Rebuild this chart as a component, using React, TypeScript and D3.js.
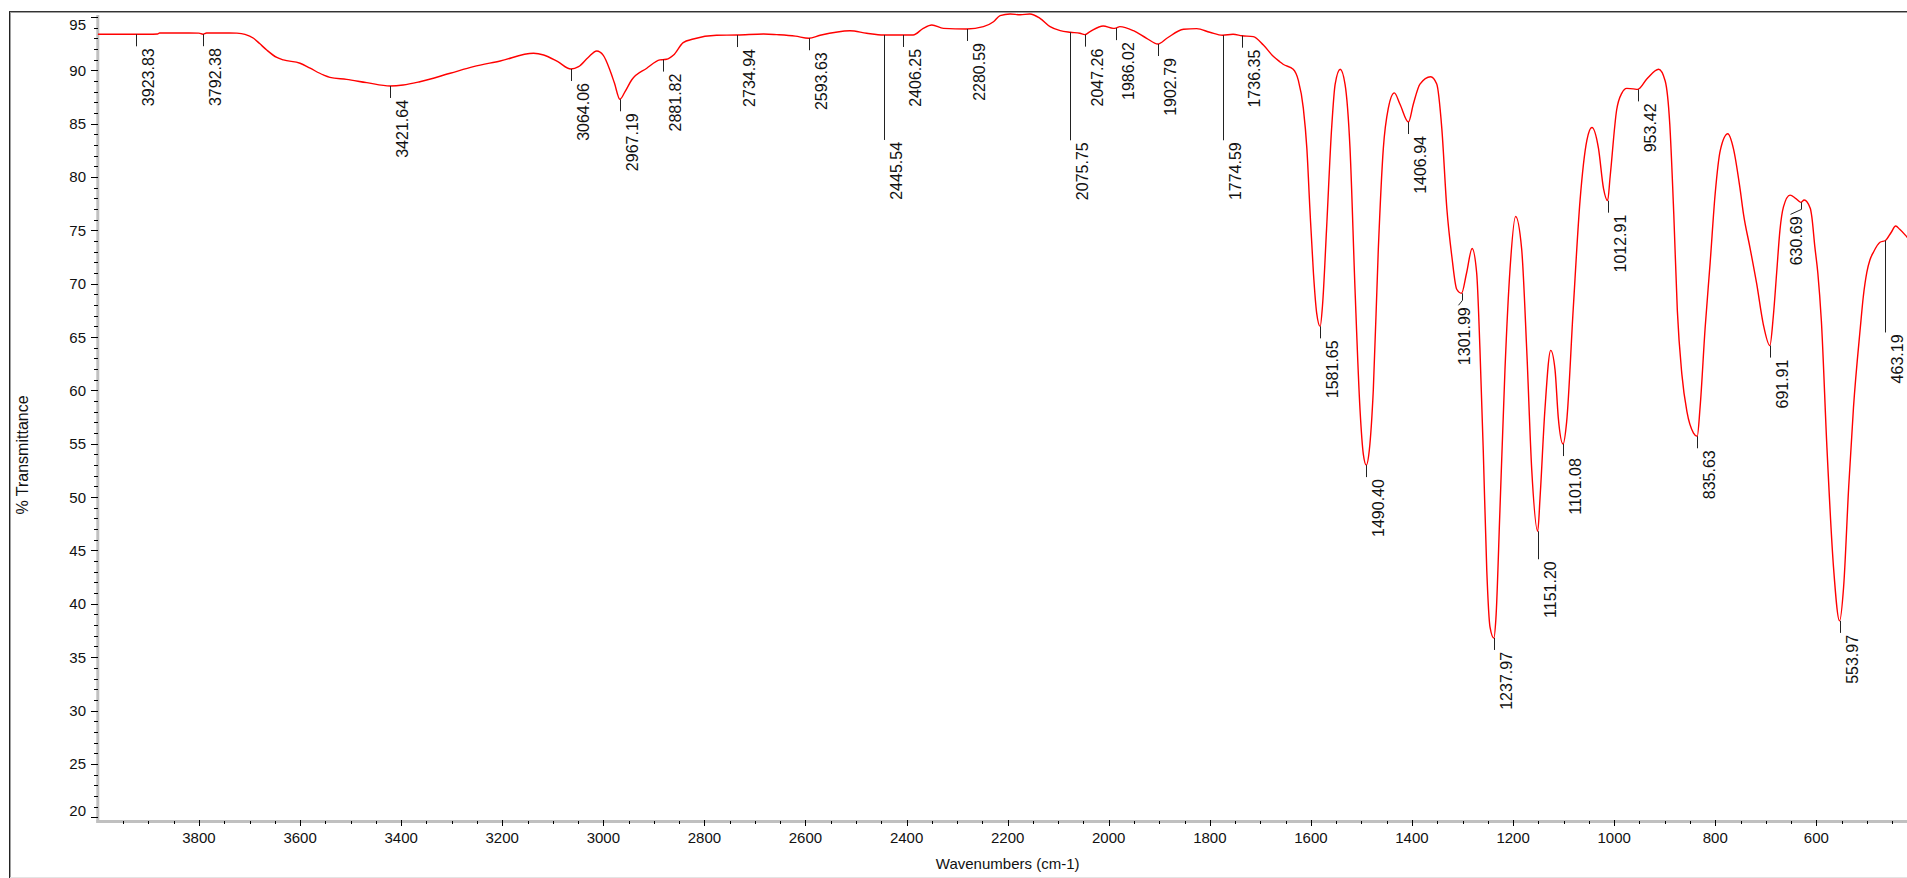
import React from 'react';
import * as d3 from 'd3';

// ---------- data ----------
const WAVENUMBERS = [
  4000, 3950, 3900, 3882, 3878, 3820, 3800, 3792.38, 3785, 3740, 3725, 3709, 3692, 3680, 3666, 3646, 3633, 3600, 3580, 3554,
  3541, 3508, 3468, 3421.64, 3396, 3363, 3303, 3257, 3204, 3138, 3118, 3090, 3064.06, 3049, 3030, 3013, 3000, 2987, 2978, 2967.19,
  2957, 2944, 2914, 2888, 2881.82, 2875, 2861, 2842, 2822, 2776, 2734.94, 2683, 2657, 2620, 2593.63, 2571, 2512, 2479, 2445.54, 2406.25,
  2387, 2367, 2350, 2327, 2280.59, 2248, 2228, 2215, 2195, 2175, 2156, 2136, 2116, 2096, 2075.75, 2057, 2047.26, 2037, 2011, 1991,
  1986.02, 1978, 1951, 1925, 1902.79, 1885, 1852, 1826, 1800, 1774.59, 1754, 1736.35, 1714, 1694, 1674, 1661, 1655, 1635, 1625, 1615,
  1608, 1602, 1595, 1588.5, 1581.65, 1577, 1569, 1559, 1552, 1542, 1532.5, 1522.6, 1512.7, 1502.8, 1496.3, 1490.4, 1484.4, 1476.5, 1466.6, 1456.7,
  1446.8, 1435, 1423.7, 1406.94, 1397.4, 1384.2, 1363, 1351, 1341, 1331, 1321, 1311.5, 1301.99, 1292, 1281, 1272, 1265.5, 1259, 1252, 1245.6,
  1237.97, 1234, 1226, 1216, 1206, 1195, 1183, 1173, 1163, 1151.2, 1146.7, 1137, 1125.5, 1117, 1110.5, 1101.08, 1094, 1081, 1067.5, 1054,
  1044, 1031, 1021, 1012.91, 1008, 995, 985, 975, 962, 953.42, 935, 912, 899, 890, 882, 875, 866, 856, 843, 835.63,
  830, 820, 810, 800, 790, 775, 764, 751, 744, 731, 718, 705, 691.91, 685, 678.5, 672, 665, 652, 641, 630.69,
  624, 612, 609, 603, 597, 590, 579, 566, 553.97, 546, 536, 526.5, 513, 507, 500, 494, 487, 474, 463.19, 452,
  443, 435, 421, 410, 400,
];
const TRANSMITTANCE = [
  93.37, 93.37, 93.37, 93.4, 93.5, 93.5, 93.48, 93.38, 93.5, 93.5, 93.48, 93.37, 93.0, 92.5, 91.9, 91.2, 90.97, 90.66, 90.19, 89.56,
  89.34, 89.15, 88.84, 88.53, 88.62, 88.93, 89.72, 90.34, 90.87, 91.59, 91.43, 90.8, 90.12, 90.34, 91.2, 91.81, 91.4, 90.03, 88.8, 87.28,
  88.0, 89.09, 90.19, 90.97, 91.0, 91.03, 91.43, 92.59, 92.93, 93.28, 93.3, 93.4, 93.34, 93.2, 93.0, 93.28, 93.71, 93.47, 93.31, 93.31,
  93.31, 93.93, 94.24, 93.93, 93.87, 94.09, 94.55, 95.12, 95.28, 95.2, 95.28, 94.87, 94.09, 93.71, 93.56, 93.47, 93.34, 93.62, 94.15, 93.93,
  93.95, 94.09, 93.71, 93.0, 92.46, 93.0, 93.84, 93.9, 93.56, 93.28, 93.37, 93.24, 93.15, 92.37, 91.28, 90.78, 90.56, 90.1, 89.08, 86.45,
  82.68, 77.02, 71.0, 67.22, 66.0, 67.98, 75.14, 84.56, 88.71, 90.1, 88.71, 82.68, 69.48, 58.18, 54.03, 53.0, 54.41, 60.06, 73.25, 82.68,
  86.45, 87.88, 86.82, 85.15, 86.82, 88.71, 89.4, 88.71, 84.56, 77.02, 72.5, 69.48, 69.1, 71.0, 73.3, 71.0, 63.83, 54.41, 43.1, 37.82,
  36.8, 38.58, 48.75, 61.95, 71.37, 76.3, 73.25, 63.83, 52.52, 46.8, 49.88, 58.18, 63.75, 61.95, 57.42, 54.97, 57.05, 67.6, 77.78, 83.43,
  84.64, 82.68, 78.91, 77.78, 80.0, 86.3, 87.84, 88.3, 88.26, 88.21, 89.2, 90.1, 89.0, 85.0, 76.5, 67.5, 61.5, 58.0, 56.0, 55.7,
  58.4, 65.85, 72.0, 78.5, 82.5, 84.05, 82.66, 78.93, 76.5, 73.32, 70.0, 66.22, 64.2, 67.0, 71.0, 75.0, 77.2, 78.3, 78.0, 77.62,
  77.84, 77.06, 76.3, 73.5, 71.0, 66.5, 54.64, 43.44, 38.4, 41.57, 50.9, 58.38, 65.85, 68.8, 71.08, 72.22, 72.95, 73.88, 74.05, 74.8,
  75.4, 75.1, 74.4, 73.8, 73.5,
];

const PEAK_POSITIONS = [
  3923.83, 3792.38, 3421.64, 3064.06, 2967.19, 2881.82, 2734.94, 2593.63, 2445.54, 2406.25, 2280.59, 2075.75, 2047.26, 1986.02,
  1902.79, 1774.59, 1736.35, 1581.65, 1490.4, 1406.94, 1301.99, 1237.97, 1151.2, 1101.08, 1012.91, 953.42, 835.63, 691.91,
  630.69, 553.97, 463.19,
];
const PEAK_LABELS = [
  '3923.83', '3792.38', '3421.64', '3064.06', '2967.19', '2881.82', '2734.94', '2593.63', '2445.54', '2406.25', '2280.59',
  '2075.75', '2047.26', '1986.02', '1902.79', '1774.59', '1736.35', '1581.65', '1490.40', '1406.94', '1301.99', '1237.97',
  '1151.20', '1101.08', '1012.91', '953.42', '835.63', '691.91', '630.69', '553.97', '463.19',
];

const X_TICKS = [3800, 3600, 3400, 3200, 3000, 2800, 2600, 2400, 2200, 2000, 1800, 1600, 1400, 1200, 1000, 800, 600];
const Y_TICKS = [20, 25, 30, 35, 40, 45, 50, 55, 60, 65, 70, 75, 80, 85, 90, 95];
const X_TITLE = 'Wavenumbers (cm-1)';
const Y_TITLE = '% Transmittance';

// ---------- layout ----------
const W = 1907;
const H = 878;
const FONT = '"Liberation Sans", Arial, Helvetica, sans-serif';
const PLOT_LEFT = 97.9;
const PLOT_RIGHT = 1917.4;
const PLOT_TOP = 15;
const PLOT_BOTTOM = 821.5;
const LEADER_DEFAULT = 12;
const LEADER_LEN: Record<string, number> = {
  '2445.54': 105, '2075.75': 108, '1774.59': 105, '463.19': 92, '1151.20': 28,
};
const LABEL_SHIFT: Record<string, number> = { '1301.99': -10, '630.69': -17 };

export default function App() {
  const x = d3.scaleLinear().domain([4000, 400]).range([PLOT_LEFT, PLOT_RIGHT]);
  const y = d3.scaleLinear().domain([19.6, 95.18]).range([PLOT_BOTTOM, PLOT_TOP]);

  const pts: [number, number][] = WAVENUMBERS.map((w, i) => [w, TRANSMITTANCE[i]]);
  const line = d3
    .line<[number, number]>()
    .x((d) => x(d[0]))
    .y((d) => y(d[1]))
    .curve(d3.curveMonotoneX);

  const interp = (w: number) => {
    for (let i = 0; i < WAVENUMBERS.length - 1; i++) {
      const a = WAVENUMBERS[i];
      const b = WAVENUMBERS[i + 1];
      if (w <= a && w >= b) {
        const t = (a - w) / (a - b);
        return TRANSMITTANCE[i] + t * (TRANSMITTANCE[i + 1] - TRANSMITTANCE[i]);
      }
    }
    return TRANSMITTANCE[TRANSMITTANCE.length - 1];
  };

  const yMinor = d3.range(20, 96, 1).filter((v) => v % 5 !== 0);
  const xMinor = d3.range(450, 4000, 50).filter((v) => v % 200 !== 0);

  const tickColor = '#000';
  const textColor = '#111';

  return (
    <svg
      width={W}
      height={H}
      style={{ position: 'absolute', left: 0, top: 0, background: '#fff' }}
      fontFamily={FONT}
    >
      {/* outer frame */}
      <line x1={9.5} y1={11} x2={9.5} y2={H} stroke="#222" strokeWidth={1} />
      <line x1={10.5} y1={12} x2={10.5} y2={H} stroke="#a0a0a0" strokeWidth={1} />
      <line x1={9} y1={11.5} x2={W} y2={11.5} stroke="#333" strokeWidth={1} />
      <line x1={10} y1={12.5} x2={W} y2={12.5} stroke="#a0a0a0" strokeWidth={1} />
      <line x1={10} y1={877.5} x2={W} y2={877.5} stroke="#e4e4e4" strokeWidth={1} />

      {/* axes lines */}
      <line x1={97.8} y1={PLOT_TOP} x2={97.8} y2={PLOT_BOTTOM + 1.5} stroke="#c0c0c0" strokeWidth={3} />
      <line x1={96.3} y1={PLOT_BOTTOM} x2={W} y2={PLOT_BOTTOM} stroke="#c0c0c0" strokeWidth={3} />

      {/* y ticks */}
      {yMinor.map((v) => (
        <line key={'ym' + v} x1={94} x2={98} y1={Math.round(y(v)) + 0.5} y2={Math.round(y(v)) + 0.5} stroke={tickColor} strokeWidth={1} />
      ))}
      {Y_TICKS.map((v) => {
        const yy = Math.round(y(v)) + 0.5;
        const ly = Math.min(Math.max(y(v), PLOT_TOP + 9), PLOT_BOTTOM - 11);
        return (
          <g key={'yt' + v}>
            <line x1={91} x2={98} y1={yy} y2={yy} stroke={tickColor} strokeWidth={1} />
            <text x={86} y={ly} textAnchor="end" dominantBaseline="central" fontSize={15} fill={textColor}>
              {v}
            </text>
          </g>
        );
      })}

      {/* x ticks */}
      {xMinor.map((w) => (
        <line key={'xm' + w} x1={Math.round(x(w)) + 0.5} x2={Math.round(x(w)) + 0.5} y1={821} y2={824} stroke={tickColor} strokeWidth={1} />
      ))}
      {X_TICKS.map((w) => {
        const xx = Math.round(x(w)) + 0.5;
        return (
          <g key={'xt' + w}>
            <line x1={xx} x2={xx} y1={820} y2={826} stroke={tickColor} strokeWidth={1} />
            <text x={x(w)} y={843} textAnchor="middle" fontSize={15} fill={textColor}>
              {w}
            </text>
          </g>
        );
      })}

      {/* titles */}
      <text x={(PLOT_LEFT + PLOT_RIGHT) / 2} y={868.5} textAnchor="middle" fontSize={15} fill={textColor}>
        {X_TITLE}
      </text>
      <text
        transform={`translate(27.5, 455) rotate(-90)`}
        textAnchor="middle"
        fontSize={16}
        fill={textColor}
      >
        {Y_TITLE}
      </text>

      {/* spectrum */}
      <path d={line(pts) || ''} fill="none" stroke="#ff0000" strokeWidth={1.4} strokeLinejoin="round" />

      {/* peak labels */}
      {PEAK_POSITIONS.map((w, i) => {
        const label = PEAK_LABELS[i];
        const mx = Math.round(x(w)) + 0.5;
        const cy = y(interp(w));
        const len = LEADER_LEN[label] ?? LEADER_DEFAULT;
        const shift = LABEL_SHIFT[label] ?? 0;
        const end = cy + len;
        const tx = mx + 17 + shift;
        let leader = `M${mx},${cy}L${mx},${end}`;
        if (shift !== 0) {
          leader = `M${mx},${cy}L${mx},${cy + 7}L${tx - 11},${end}`;
        }
        return (
          <g key={'pk' + label}>
            <path d={leader} fill="none" stroke="#222" strokeWidth={1} />
            <text
              transform={`translate(${tx}, ${end + 2}) rotate(-90)`}
              textAnchor="end"
              fontSize={16}
              fill={textColor}
            >
              {label}
            </text>
          </g>
        );
      })}
    </svg>
  );
}
